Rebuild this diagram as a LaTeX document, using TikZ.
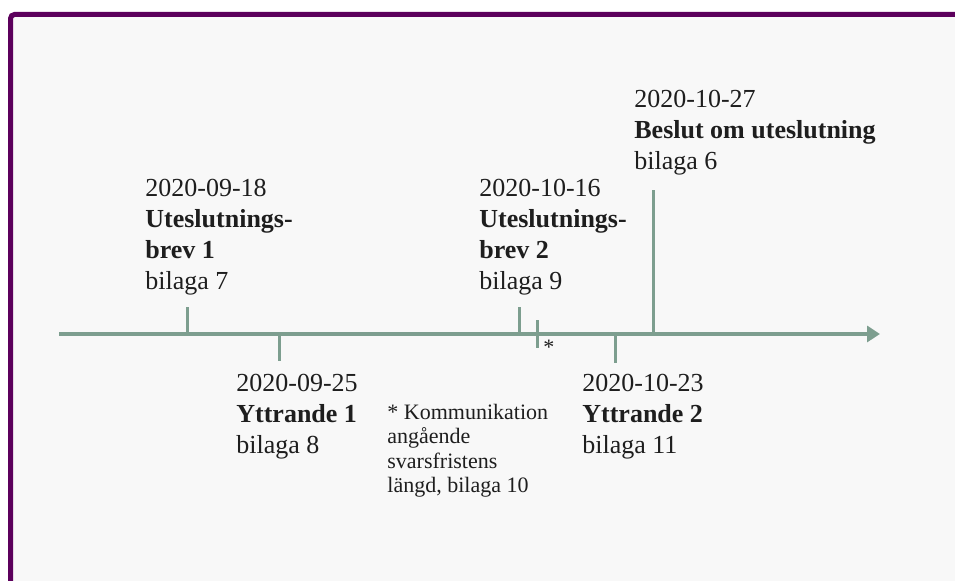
\documentclass[tikz,border=0pt]{standalone}
\usepackage{fontspec}
\setmainfont{Liberation Serif}
\usetikzlibrary{arrows.meta}
\definecolor{framepurple}{RGB}{92,0,92}
\definecolor{axisgreen}{RGB}{125,158,143}
\definecolor{paper}{RGB}{248,248,248}
\definecolor{ink}{RGB}{30,30,30}
\tikzset{
  datetick/.style={axisgreen, line width=1.5pt},
  event/.style={anchor=base west, inner sep=0pt, align=left, text=ink, font=\fontsize{13}{15.5}\selectfont},
  note/.style={event, font=\fontsize{11}{12.25}\selectfont}
}
\begin{document}
\begin{tikzpicture}[x=0.5pt,y=-0.5pt]
\useasboundingbox (0,0) rectangle (955,581);
\clip (0,0) rectangle (955,581);
\draw[framepurple, line width=2.5pt, fill=paper, rounded corners=2pt] (10.5,14.5) rectangle (1000,640);

% time axis
\coordinate (start) at (59,334);
\coordinate (end) at (880,334);
\draw[axisgreen, line width=1.75pt, -{Triangle[length=6.5pt,width=8pt]}] (start) -- (end);

% ticks on the axis
\coordinate (sep18) at (187,334);
\coordinate (sep25) at (279,334);
\coordinate (oct16) at (519,334);
\coordinate (komm) at (537,348);
\coordinate (oct23) at (615,334);
\coordinate (oct27) at (653,334);
\draw[datetick] (sep18) -- ++(0,-27);
\draw[datetick] (sep25) -- ++(0,27);
\draw[datetick] (oct16) -- ++(0,-27);
\draw[datetick] (komm) -- ++(0,-28);
\draw[datetick] (oct23) -- ++(0,29);
\draw[datetick] (oct27) -- ++(0,-144);

% labels (anchored at the last line)
\node[event] (brev1) at (145,290) {2020-09-18\\\textbf{Uteslutnings-}\\\textbf{brev 1}\\bilaga 7};
\node[event] (ytt1) at (236,454) {2020-09-25\\\textbf{Yttrande 1}\\bilaga 8};
\node[event] (brev2) at (479,290) {2020-10-16\\\textbf{Uteslutnings-}\\\textbf{brev 2}\\bilaga 9};
\node[event] (ytt2) at (582,454) {2020-10-23\\\textbf{Yttrande 2}\\bilaga 11};
\node[event] (beslut) at (634,170) {2020-10-27\\\textbf{Beslut om uteslutning}\\bilaga 6};
\node[note] (star) at (543,355) {*};
\node[note] (kommtext) at (387,493) {* Kommunikation\\angående\\svarsfristens\\längd, bilaga 10};
\end{tikzpicture}
\end{document}
